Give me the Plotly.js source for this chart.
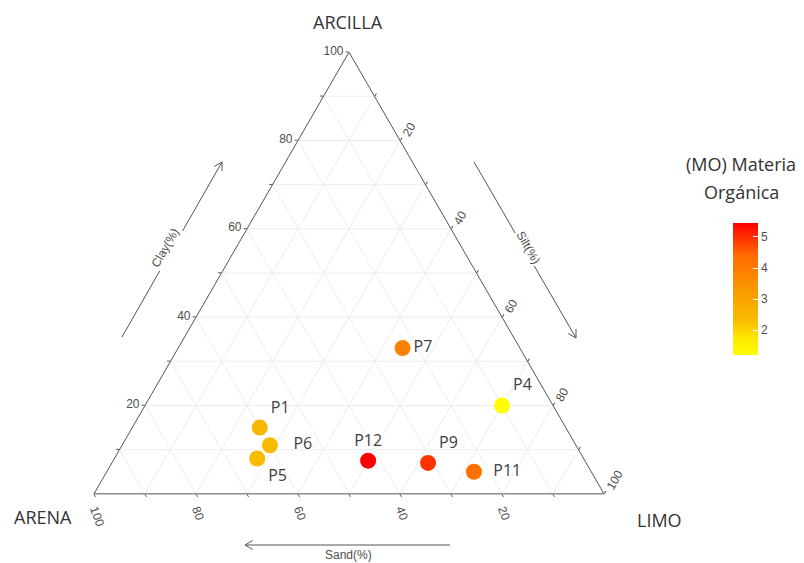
<!DOCTYPE html>
<html>
<head>
<meta charset="utf-8">
<script src="https://cdn.plot.ly/plotly-3.0.1.min.js"></script>
<style>html,body{margin:0;padding:0;background:#fff;}#chart{width:804px;height:563px;}</style>
</head>
<body>
<div id="chart"></div>
<script>
// ---- data ----
const pointLabels = ['P1', 'P4', 'P5', 'P6', 'P7', 'P9', 'P11', 'P12'];
const clay = [15, 20, 8, 11, 33, 7, 5, 7.5];
const silt = [25, 70, 28, 29, 44, 62, 72, 50];
const sand = [60, 10, 64, 60, 23, 31, 23, 42.5];
const organicMatter = [2.5, 1.2, 2.4, 2.4, 3.9, 4.95, 4.3, 5.45];
const labelPositions = ['top right', 'top right', 'bottom right', 'middle right', 'middle right', 'top right', 'middle right', 'top center'];
const labelPadding = [0, 0, 0, 3, 0, 0, 2, 0];
const axisTickVals = [10, 20, 30, 40, 50, 60, 70, 80, 90, 100];
const axisTickText = ['', '20', '', '40', '', '60', '', '80', '', '100'];
const colorbarTicks = [2, 3, 4, 5];
const vertexNames = ['ARCILLA', 'ARENA', 'LIMO'];
const arrowNames = ['Clay(%)', 'Silt(%)', 'Sand(%)'];
const colorbarTitle = ['(MO) Materia', 'Orgánica'];

const W = 804, H = 563;
const px = (x) => x / W;
const py = (y) => 1 - y / H;

function arrowShapes(x0, y0, x1, y1) {
  const dx = x1 - x0, dy = y1 - y0, L = Math.hypot(dx, dy);
  const ux = dx / L, uy = dy / L, h = 9, a = Math.PI / 6;
  const rot = (ang) => [x1 - h * (ux * Math.cos(ang) - uy * Math.sin(ang)), y1 - h * (ux * Math.sin(ang) + uy * Math.cos(ang))];
  const p1 = rot(a), p2 = rot(-a);
  const path = `M ${px(x0)} ${py(y0)} L ${px(x1)} ${py(y1)} M ${px(p1[0])} ${py(p1[1])} L ${px(x1)} ${py(y1)} L ${px(p2[0])} ${py(p2[1])}`;
  return {type: 'path', xref: 'paper', yref: 'paper', path: path, line: {color: '#555555', width: 1}};
}

const ylRd = [
  [0, '#FFFF00'], [0.125, '#FFE800'], [0.25, '#F7C000'], [0.5, '#FB9700'], [0.75, '#FF6C00'], [1, '#FF0000']
];

const displayLabels = pointLabels.map((t, i) => '\u00A0'.repeat(labelPadding[i]) + t);

const trace = {
  type: 'scatterternary',
  mode: 'markers+text',
  a: clay, b: sand, c: silt,
  text: displayLabels,
  textposition: labelPositions,
  textfont: {family: 'Open Sans, sans-serif', size: 16, color: '#404040'},
  cliponaxis: false,
  marker: {
    size: 16,
    color: organicMatter,
    colorscale: ylRd,
    cmin: 1.2, cmax: 5.45,
    line: {width: 0},
    colorbar: {
      tickmode: 'array', tickvals: colorbarTicks,
      ticks: 'inside', ticklen: 5, tickcolor: '#ffffff',
      tickfont: {family: 'Liberation Sans, Arial, sans-serif', size: 12, color: '#4D4D4D'},
      thickness: 25, thicknessmode: 'pixels',
      len: 132 / H, lenmode: 'fraction',
      x: px(733), xanchor: 'left', xpad: 0,
      y: py(355), yanchor: 'bottom', ypad: 0,
      outlinewidth: 0
    }
  },
  hoverinfo: 'text'
};

function ternAxis(angle) {
  return {
    title: {text: ''},
    min: 0,
    tickmode: 'array', tickvals: axisTickVals, ticktext: axisTickText,
    ticks: 'outside', ticklen: 3, tickcolor: '#555555',
    tickangle: angle,
    tickfont: {family: 'Liberation Sans, Arial, sans-serif', size: 12, color: '#4D4D4D'},
    showline: true, linecolor: '#555555', linewidth: 1,
    showgrid: true, gridcolor: '#EDEDED', gridwidth: 1
  };
}

const annFont = {family: 'Liberation Sans, Arial, sans-serif', size: 12, color: '#4D4D4D'};
const vtxFont = {family: 'Open Sans, sans-serif', size: 18, color: '#333333'};
const cbFont = {family: 'Open Sans, sans-serif', size: 18, color: '#333333'};

function note(x, y, text, font, extra) {
  return Object.assign({xref: 'paper', yref: 'paper', x: px(x), y: py(y), xanchor: 'center', yanchor: 'middle',
    text: text, showarrow: false, font: font}, extra || {});
}

const layout = {
  width: W, height: H,
  margin: {l: 0, r: 0, t: 0, b: 0, autoexpand: false},
  paper_bgcolor: '#ffffff',
  showlegend: false,
  ternary: {
    sum: 100,
    domain: {x: [px(94), px(604)], y: [py(494), py(52)]},
    bgcolor: '#ffffff',
    aaxis: ternAxis(0),
    baxis: ternAxis(70),
    caxis: ternAxis(-60)
  },
  shapes: [
    arrowShapes(122, 337, 222, 162),
    arrowShapes(474, 162, 576, 338),
    arrowShapes(450, 545, 245, 545)
  ],
  annotations: [
    note(348, 22, vertexNames[0], vtxFont),
    note(43, 517, vertexNames[1], vtxFont),
    note(659, 520, vertexNames[2], vtxFont),
    note(165, 248, arrowNames[0], annFont, {textangle: -60, bgcolor: '#ffffff'}),
    note(528, 247, arrowNames[1], annFont, {textangle: 60, bgcolor: '#ffffff'}),
    note(348, 555, arrowNames[2], annFont),
    note(741, 164, colorbarTitle[0], cbFont),
    note(741, 192, colorbarTitle[1], cbFont)
  ]
};

Plotly.newPlot('chart', [trace], layout, {displayModeBar: false, staticPlot: true});
</script>
</body>
</html>
